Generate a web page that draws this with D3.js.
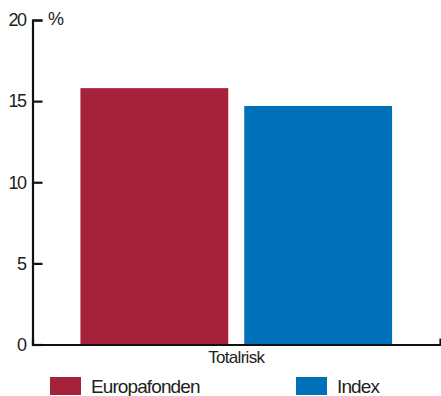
<!DOCTYPE html>
<html>
<head>
<meta charset="utf-8">
<script src="https://cdn.jsdelivr.net/npm/d3@7.9.0/dist/d3.min.js"></script>
<style>
  body { margin: 0; background: #fff; }
  svg { display: block; font-family: "Liberation Sans", Arial, sans-serif; }
</style>
</head>
<body>
<svg id="chart" width="441" height="396"></svg>
<script>
const categories = ["Totalrisk"];
const seriesNames = ["Europafonden", "Index"];
const seriesColors = ["#A6213A", "#0070B8"];
const europafonden = [15.8];
const index = [14.7];
const yTicks = [0, 5, 10, 15, 20];

const svg = d3.select("#chart");
const plotLeft = 32.5, plotRight = 440, plotTop = 20, plotBottom = 344.5;

const y = d3.scaleLinear().domain([0, 20]).range([plotBottom, plotTop]);
const x0 = d3.scaleBand().domain(categories).range([plotLeft, plotRight])
  .paddingInner(0).paddingOuter(0.1538);
const x1 = d3.scaleBand().domain(seriesNames).range([0, x0.bandwidth()])
  .paddingInner(0.0976).paddingOuter(0);
const color = d3.scaleOrdinal().domain(seriesNames).range(seriesColors);

const rows = categories.map((c, i) => ({
  cat: c,
  values: [
    { name: "Europafonden", v: europafonden[i] },
    { name: "Index", v: index[i] }
  ]
}));

// bars
svg.append("g").selectAll("g").data(rows).join("g")
  .attr("transform", d => `translate(${x0(d.cat)},0)`)
  .selectAll("rect").data(d => d.values).join("rect")
  .attr("x", d => x1(d.name))
  .attr("y", d => y(d.v))
  .attr("width", x1.bandwidth())
  .attr("height", d => y(0) - y(d.v))
  .attr("fill", d => color(d.name));

// y axis
const yAxis = svg.append("g")
  .attr("transform", `translate(${plotLeft},0)`)
  .call(d3.axisLeft(y).tickValues(yTicks).tickSizeInner(-10).tickSizeOuter(-10).tickPadding(7));
yAxis.selectAll("path,line").attr("stroke", "#111").attr("stroke-width", 2.2);
yAxis.selectAll("text").attr("font-size", 18).attr("fill", "#222")
  .attr("letter-spacing", -1.5).attr("font-family", "Liberation Sans, Arial, sans-serif");

// x axis
const xAxis = svg.append("g")
  .attr("transform", `translate(0,${plotBottom})`)
  .call(d3.axisBottom(x0).tickSizeInner(0).tickSizeOuter(-6).tickPadding(6));
xAxis.selectAll("path").attr("stroke", "#111").attr("stroke-width", 2.2);
xAxis.selectAll("text").attr("font-size", 17).attr("fill", "#222")
  .attr("letter-spacing", -0.7).attr("font-family", "Liberation Sans, Arial, sans-serif");

// unit label
svg.append("text")
  .attr("x", 48).attr("y", 25)
  .attr("font-size", 18).attr("fill", "#222")
  .attr("letter-spacing", -1)
  .text("%");

// legend
const legendX = [50, 296];
const legend = svg.append("g").selectAll("g").data(seriesNames).join("g")
  .attr("transform", (d, i) => `translate(${legendX[i]},377)`);
legend.append("rect")
  .attr("width", 31).attr("height", 18)
  .attr("fill", d => color(d));
legend.append("text")
  .attr("x", 41).attr("y", 16)
  .attr("font-size", 19).attr("fill", "#222")
  .attr("letter-spacing", -0.9)
  .text(d => d);
</script>
</body>
</html>
